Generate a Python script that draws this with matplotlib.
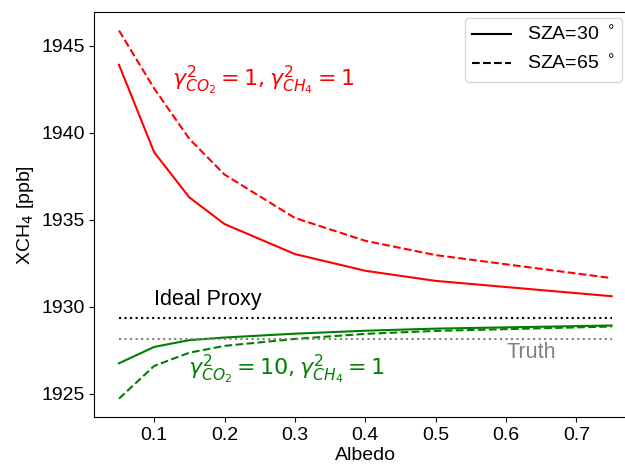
import matplotlib
matplotlib.use('Agg')
import matplotlib.pyplot as plt
from matplotlib.lines import Line2D

plt.rcParams['font.family'] = ['Liberation Sans', 'DejaVu Sans']
plt.rcParams['mathtext.fontset'] = 'dejavusans'

albedo = [0.05, 0.1, 0.15, 0.2, 0.3, 0.4, 0.5, 0.75]

# gamma_CO2^2 = 1, gamma_CH4^2 = 1
red_sza30 = [1943.89, 1938.87, 1936.28, 1934.75, 1933.03, 1932.07, 1931.49, 1930.61]
red_sza65 = [1945.86, 1942.53, 1939.64, 1937.59, 1935.10, 1933.79, 1932.97, 1931.65]

# gamma_CO2^2 = 10, gamma_CH4^2 = 1
green_sza30 = [1926.76, 1927.70, 1928.09, 1928.24, 1928.46, 1928.63, 1928.75, 1928.93]
green_sza65 = [1924.73, 1926.61, 1927.37, 1927.76, 1928.16, 1928.45, 1928.62, 1928.87]

ideal_proxy = 1929.36
truth = 1928.18

fig = plt.figure(figsize=(6.25, 4.66), dpi=100)
ax = fig.add_axes([0.151, 0.105, 0.867, 0.869])

ax.plot(albedo, red_sza30, color='red', ls='-', lw=1.5)
ax.plot(albedo, red_sza65, color='red', ls='--', lw=1.5)
ax.plot(albedo, green_sza30, color='green', ls='-', lw=1.5)
ax.plot(albedo, green_sza65, color='green', ls='--', lw=1.5)
ax.plot([albedo[0], albedo[-1]], [ideal_proxy] * 2, color='black', ls=':', lw=1.5)
ax.plot([albedo[0], albedo[-1]], [truth] * 2, color='gray', ls=':', lw=1.5)

ax.text(0.1, 1930.45, 'Ideal Proxy', fontsize=15.5, va='center', ha='left')
ax.text(0.6, 1927.4, 'Truth', fontsize=15.5, va='center', ha='left', color='gray')
ax.text(0.126, 1943.0, r'$\gamma^2_{CO_2}=1, \gamma^2_{CH_4}=1$',
        fontsize=16, color='red', va='center', ha='left')
ax.text(0.148, 1926.4, r'$\gamma^2_{CO_2}=10, \gamma^2_{CH_4}=1$',
        fontsize=16, color='green', va='center', ha='left')

ax.set_xlabel('Albedo', fontsize=14, labelpad=2)
ax.set_ylabel(r'XCH$_4$ [ppb]', fontsize=14)
ax.tick_params(labelsize=14)
ax.set_xticks([0.1, 0.2, 0.3, 0.4, 0.5, 0.6, 0.7])
ax.spines['right'].set_visible(False)

handles = [Line2D([], [], color='black', ls='-', lw=1.5),
           Line2D([], [], color='black', ls='--', lw=1.5)]
ax.legend(handles, [r'SZA=30 $^\circ$', r'SZA=65 $^\circ$'],
          loc='upper right', fontsize=14, borderaxespad=0.3,
          bbox_to_anchor=(0.985, 1.0))

fig.savefig('out.png', dpi=100)
